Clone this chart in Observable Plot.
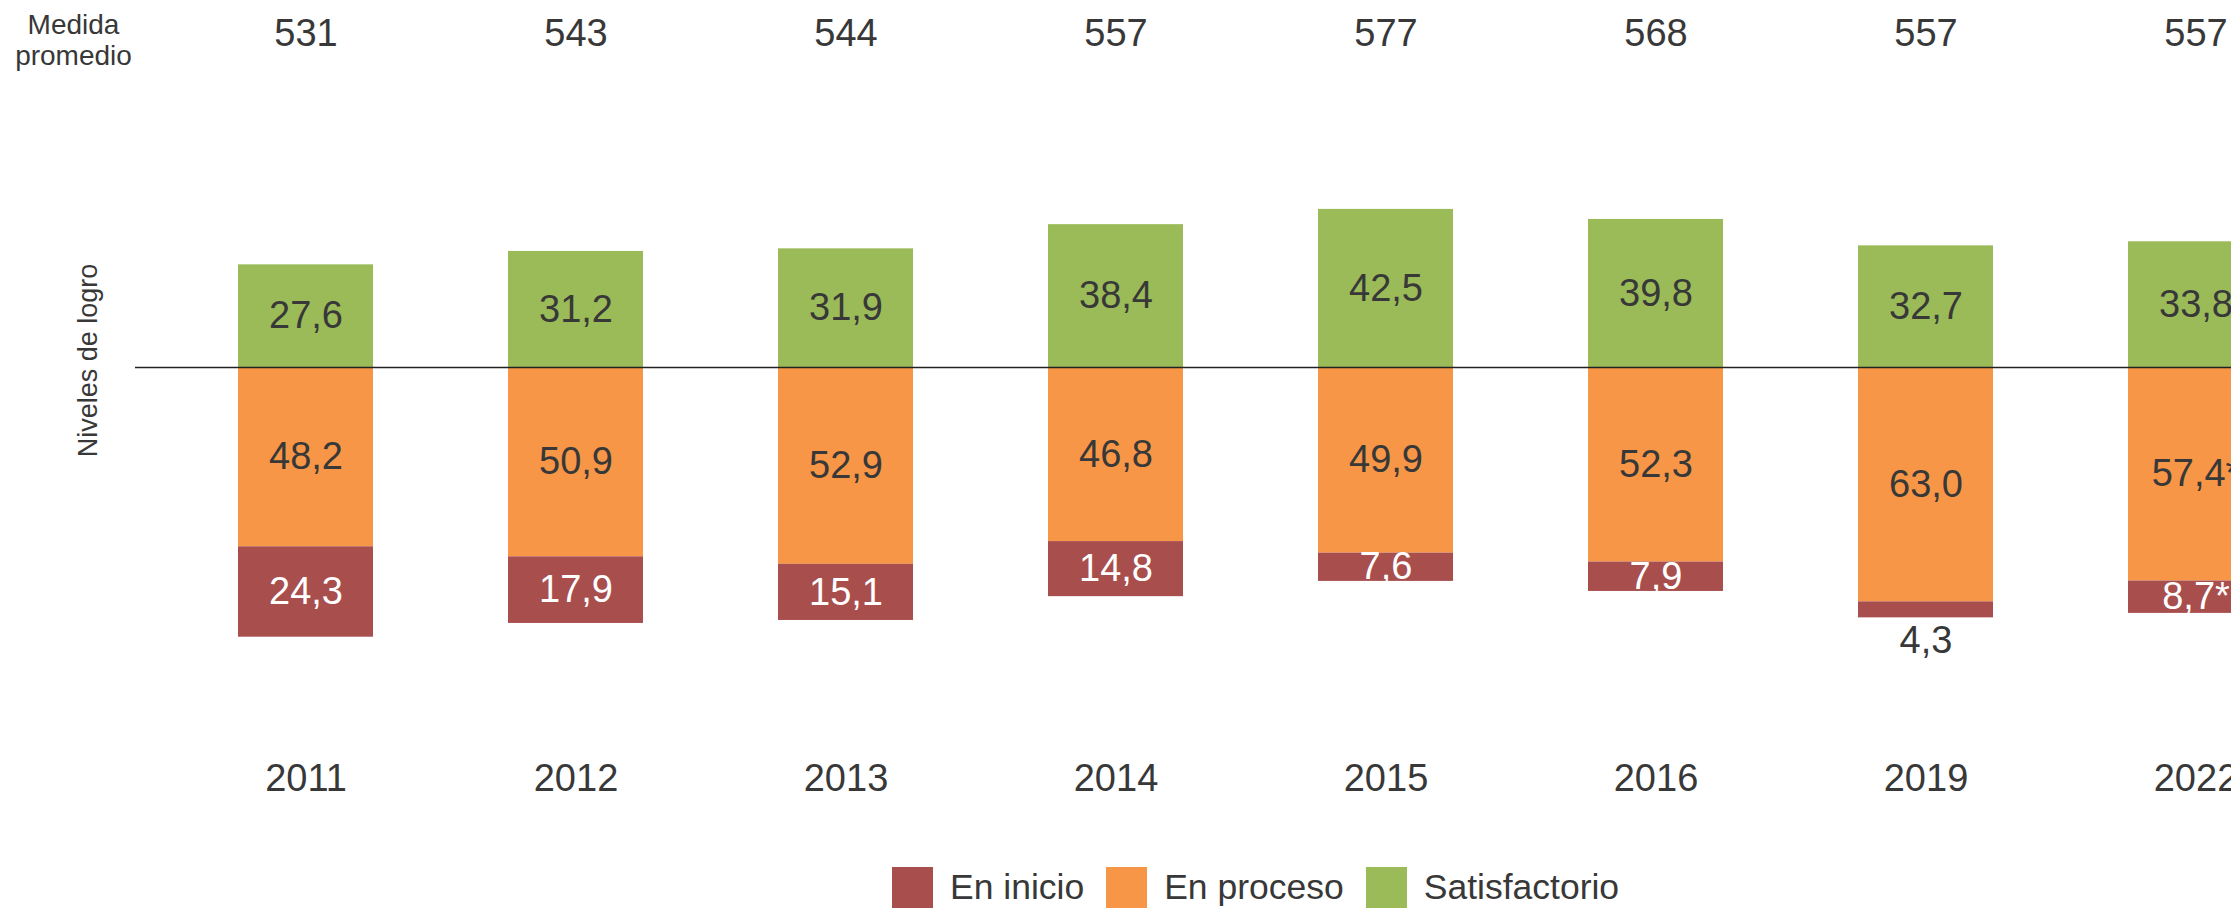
<!DOCTYPE html>
<html>
<head>
<meta charset="utf-8">
<script src="https://cdn.jsdelivr.net/npm/d3@7"></script>
<script src="https://cdn.jsdelivr.net/npm/@observablehq/plot@0.6"></script>
<style>
  html, body { margin: 0; padding: 0; background: white; overflow: hidden; }
  body { width: 2231px; height: 908px; position: relative; font-family: "Liberation Sans", Arial, sans-serif; }
  #legend { position: absolute; top: 867px; left: 892px; display: flex; align-items: center; color: #383838; font-size: 35.5px; white-space: nowrap; }
  #legend .item { display: flex; align-items: center; margin-right: 22px; }
  #legend .sw { width: 41px; height: 41px; margin-right: 17px; }
</style>
</head>
<body>
<div id="chart"></div>
<div id="legend"></div>
<script>
// ---- data ----
const years = ["2011", "2012", "2013", "2014", "2015", "2016", "2019", "2022"];
const medida = [531, 543, 544, 557, 577, 568, 557, 557];
const satisfactorio = [27.6, 31.2, 31.9, 38.4, 42.5, 39.8, 32.7, 33.8];
const enProceso = [48.2, 50.9, 52.9, 46.8, 49.9, 52.3, 63.0, 57.4];
const enInicio = [24.3, 17.9, 15.1, 14.8, 7.6, 7.9, 4.3, 8.7];
const procesoNote = ["", "", "", "", "", "", "", "*"];
const inicioNote = ["", "", "", "", "", "", "", "*"];
const levels = ["En inicio", "En proceso", "Satisfactorio"];
const levelColors = ["#A84E4D", "#F79646", "#9BBB59"];

const fmt = v => v.toFixed(1).replace(".", ",");

// rows in stacking order: positive Satisfactorio, then En proceso (near zero), then En inicio
const rows = [];
years.forEach((yr, i) => {
  rows.push({year: yr, level: "Satisfactorio", value: satisfactorio[i], label: fmt(satisfactorio[i])});
  rows.push({year: yr, level: "En proceso", value: -enProceso[i], label: fmt(enProceso[i]) + procesoNote[i]});
  rows.push({year: yr, level: "En inicio", value: -enInicio[i], label: fmt(enInicio[i]) + inicioNote[i]});
});
const yearTable = years.map((yr, i) => ({year: yr, medida: medida[i]}));

const dark = "#383838";
const small = d => Math.abs(d.value) < 5;

const chart = Plot.plot({
  width: 2231,
  height: 860,
  marginTop: 0,
  marginBottom: 0,
  marginLeft: 135,
  marginRight: 0,
  x: {domain: years, range: [101.6, 2398.7], padding: 0.5, axis: null},
  y: {domain: [-100, 50], range: [739, 181], axis: null},
  color: {domain: levels, range: levelColors},
  style: {fontFamily: "'Liberation Sans', Arial, sans-serif", background: "white", color: dark, overflow: "hidden"},
  marks: [
    Plot.barY(rows, Plot.stackY({x: "year", y: "value", z: "level", fill: "level", order: null})),
    Plot.ruleY([0], {stroke: "#222", strokeWidth: 1.6}),
    // labels inside green / orange segments
    Plot.text(rows, Plot.stackY({x: "year", y: "value", z: "level", order: null,
      text: d => d.level !== "En inicio" ? d.label : "", fill: dark, fontSize: 38})),
    // labels inside red segments
    Plot.text(rows, Plot.stackY({x: "year", y: "value", z: "level", order: null,
      text: d => d.level === "En inicio" && !small(d) ? d.label : "", fill: "white", fontSize: 38})),
    // small red segments labelled below the bar
    Plot.text(rows, Plot.stackY2({x: "year", y: "value", z: "level", order: null,
      text: d => d.level === "En inicio" && small(d) ? d.label : "", fill: dark, fontSize: 38, dy: 23})),
    // Medida promedio row
    Plot.text(yearTable, {x: "year", text: d => String(d.medida), frameAnchor: "top", lineAnchor: "middle", dy: 33, fill: dark, fontSize: 38}),
    Plot.text(["Medida\npromedio"], {text: d => d, frameAnchor: "top-left", textAnchor: "middle", lineAnchor: "middle", dx: -62, dy: 39, fill: dark, fontSize: 28, lineHeight: 1.1}),
    // year labels
    Plot.text(yearTable, {x: "year", text: "year", frameAnchor: "bottom", lineAnchor: "middle", dy: -82, fill: dark, fontSize: 38}),
    // vertical label
    Plot.text(["Niveles de logro"], {text: d => d, frameAnchor: "left", textAnchor: "middle", lineAnchor: "middle", dx: -47, dy: -70, rotate: -90, fill: dark, fontSize: 27})
  ]
});
document.getElementById("chart").appendChild(chart);

// legend
const legend = d3.select("#legend");
levels.forEach((lv, i) => {
  const it = legend.append("div").attr("class", "item");
  it.append("div").attr("class", "sw").style("background", levelColors[i]);
  it.append("span").text(lv);
});
</script>
</body>
</html>
